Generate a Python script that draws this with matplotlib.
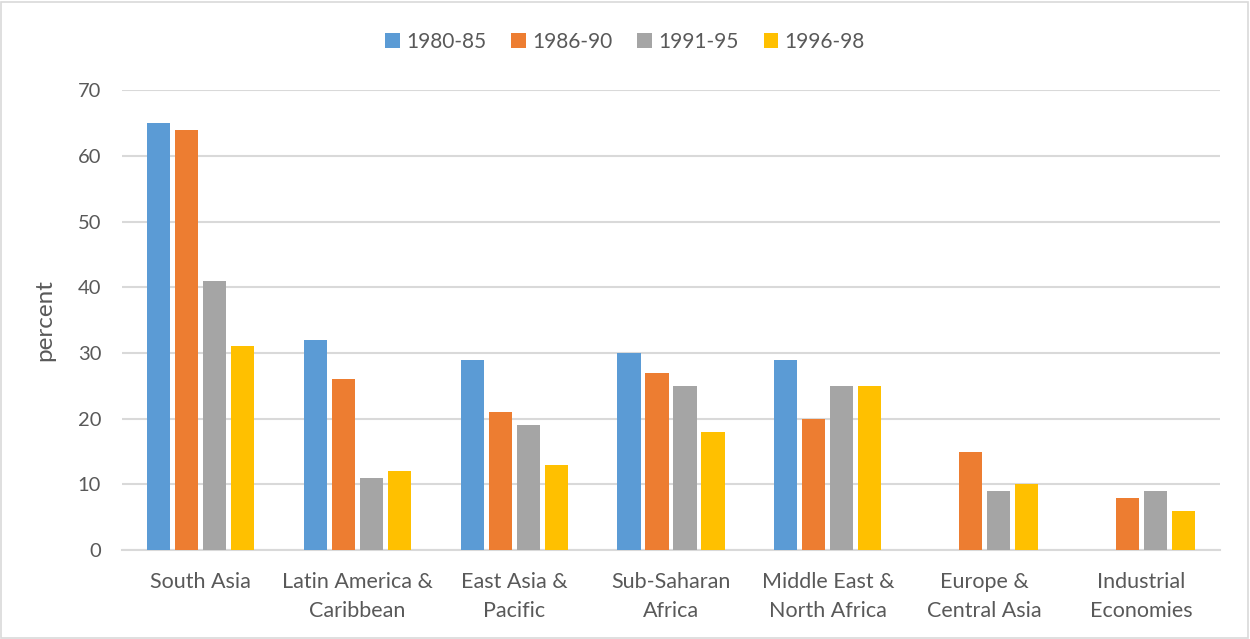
import numpy as np
import matplotlib
matplotlib.use('Agg')
import matplotlib.pyplot as plt
from matplotlib.patches import Rectangle

plt.rcParams['font.family'] = ['Lato', 'DejaVu Sans']

regions = ['South Asia', 'Latin America &\nCaribbean', 'East Asia &\nPacific',
           'Sub-Saharan\nAfrica', 'Middle East &\nNorth Africa', 'Europe &\nCentral Asia',
           'Industrial\nEconomies']
periods = ['1980-85', '1986-90', '1991-95', '1996-98']
p1980 = [65, 32, 29, 30, 29, np.nan, np.nan]
p1986 = [64, 26, 21, 27, 20, 15, 8]
p1991 = [41, 11, 19, 25, 25, 9, 9]
p1996 = [31, 12, 13, 18, 25, 10, 6]
colors = ['#5b9bd5', '#ed7d31', '#a5a5a5', '#ffc000']

txt = '#595959'
fig = plt.figure(figsize=(12.5, 6.39), dpi=100)
ax = fig.add_axes([0.0976, 0.139, 0.8784, 0.72])

x = np.arange(len(regions))
step = 0.1785
for i, (vals, c, lab) in enumerate(zip([p1980, p1986, p1991, p1996], colors, periods)):
    ax.bar(x + (i - 1.5) * step, vals, width=0.148, color=c, label=lab, zorder=3)

ax.set_xlim(-0.5, len(regions) - 0.5)
ax.set_ylim(0, 70)
ax.set_yticks(range(0, 71, 10))
ax.set_xticks(x)
ax.set_xticklabels(regions, fontsize=15.5, color=txt, linespacing=1.55)
ax.tick_params(axis='y', labelsize=14.5, labelcolor=txt, length=0, pad=15)
ax.tick_params(axis='x', length=0, pad=16)
ax.grid(axis='y', color='#d9d9d9', linewidth=1.5, zorder=0)
for s in ['top', 'right', 'left']:
    ax.spines[s].set_visible(False)
ax.spines['bottom'].set_color('#d9d9d9')
ax.spines['bottom'].set_linewidth(1.5)
ax.set_ylabel('percent', fontsize=17.5, color=txt, labelpad=16)

fig.legend(loc='upper center', bbox_to_anchor=(0.5, 0.98), ncol=4, frameon=False,
           fontsize=15, labelcolor=txt, handlelength=0.7, handleheight=0.7,
           handletextpad=0.3, columnspacing=1.2)

fig.patches.append(Rectangle((0.001, 0.002), 0.997, 0.995, transform=fig.transFigure,
                             fill=False, edgecolor='#d9d9d9', linewidth=1.2))

fig.savefig('out.png', dpi=100)
